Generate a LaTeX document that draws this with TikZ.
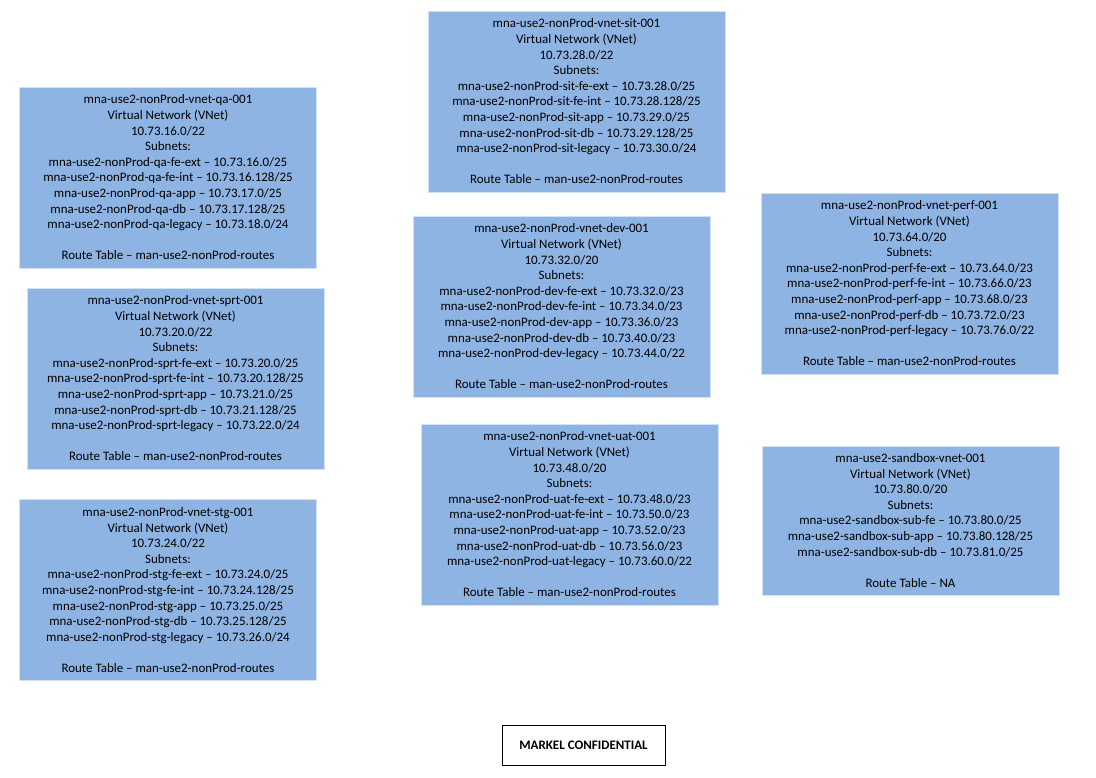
\documentclass[tikz,border=0pt]{standalone}
\usepackage{fontspec}
\setmainfont{Carlito}
\begin{document}
\begin{tikzpicture}[x=1pt,y=-1pt,
  vnet/.style={draw=white!60!boxblue, line width=0.6pt, fill=boxblue, minimum width=297pt, minimum height=181pt, align=center, inner sep=0pt, font=\fontsize{12.95pt}{15.6pt}\selectfont},
  conf/.style={draw=black, line width=0.8pt, fill=white, minimum width=163pt, minimum height=40pt, inner sep=0pt, font=\fontsize{13pt}{15pt}\selectfont\bfseries}]
\definecolor{boxblue}{HTML}{8EB4E3}
\useasboundingbox (0,0) rectangle (1096,778);
\fill[white] (0,0) rectangle (1096,778);

\node[vnet] (qa) at (168,177.5) {mna-use2-nonProd-vnet-qa-001\\Virtual Network (VNet)\\10.73.16.0/22\\Subnets:\\mna-use2-nonProd-qa-fe-ext -- 10.73.16.0/25\\mna-use2-nonProd-qa-fe-int -- 10.73.16.128/25\\mna-use2-nonProd-qa-app -- 10.73.17.0/25\\mna-use2-nonProd-qa-db -- 10.73.17.128/25\\mna-use2-nonProd-qa-legacy -- 10.73.18.0/24\\[15.6pt]Route Table -- man-use2-nonProd-routes};

\node[vnet] (sprt) at (175.5,378.5) {mna-use2-nonProd-vnet-sprt-001\\Virtual Network (VNet)\\10.73.20.0/22\\Subnets:\\mna-use2-nonProd-sprt-fe-ext -- 10.73.20.0/25\\mna-use2-nonProd-sprt-fe-int -- 10.73.20.128/25\\mna-use2-nonProd-sprt-app -- 10.73.21.0/25\\mna-use2-nonProd-sprt-db -- 10.73.21.128/25\\mna-use2-nonProd-sprt-legacy -- 10.73.22.0/24\\[15.6pt]Route Table -- man-use2-nonProd-routes};

\node[vnet] (stg) at (168,590) {mna-use2-nonProd-vnet-stg-001\\Virtual Network (VNet)\\10.73.24.0/22\\Subnets:\\mna-use2-nonProd-stg-fe-ext -- 10.73.24.0/25\\mna-use2-nonProd-stg-fe-int -- 10.73.24.128/25\\mna-use2-nonProd-stg-app -- 10.73.25.0/25\\mna-use2-nonProd-stg-db -- 10.73.25.128/25\\mna-use2-nonProd-stg-legacy -- 10.73.26.0/24\\[15.6pt]Route Table -- man-use2-nonProd-routes};

\node[vnet] (sit) at (576.5,101.5) {mna-use2-nonProd-vnet-sit-001\\Virtual Network (VNet)\\10.73.28.0/22\\Subnets:\\mna-use2-nonProd-sit-fe-ext -- 10.73.28.0/25\\mna-use2-nonProd-sit-fe-int -- 10.73.28.128/25\\mna-use2-nonProd-sit-app -- 10.73.29.0/25\\mna-use2-nonProd-sit-db -- 10.73.29.128/25\\mna-use2-nonProd-sit-legacy -- 10.73.30.0/24\\[15.6pt]Route Table -- man-use2-nonProd-routes};

\node[vnet] (dev) at (561.5,306.5) {mna-use2-nonProd-vnet-dev-001\\Virtual Network (VNet)\\10.73.32.0/20\\Subnets:\\mna-use2-nonProd-dev-fe-ext -- 10.73.32.0/23\\mna-use2-nonProd-dev-fe-int -- 10.73.34.0/23\\mna-use2-nonProd-dev-app -- 10.73.36.0/23\\mna-use2-nonProd-dev-db -- 10.73.40.0/23\\mna-use2-nonProd-dev-legacy -- 10.73.44.0/22\\[15.6pt]Route Table -- man-use2-nonProd-routes};

\node[vnet] (uat) at (569.5,514.5) {mna-use2-nonProd-vnet-uat-001\\Virtual Network (VNet)\\10.73.48.0/20\\Subnets:\\mna-use2-nonProd-uat-fe-ext -- 10.73.48.0/23\\mna-use2-nonProd-uat-fe-int -- 10.73.50.0/23\\mna-use2-nonProd-uat-app -- 10.73.52.0/23\\mna-use2-nonProd-uat-db -- 10.73.56.0/23\\mna-use2-nonProd-uat-legacy -- 10.73.60.0/22\\[15.6pt]Route Table -- man-use2-nonProd-routes};

\node[vnet] (perf) at (909.5,283.5) {mna-use2-nonProd-vnet-perf-001\\Virtual Network (VNet)\\10.73.64.0/20\\Subnets:\\mna-use2-nonProd-perf-fe-ext -- 10.73.64.0/23\\mna-use2-nonProd-perf-fe-int -- 10.73.66.0/23\\mna-use2-nonProd-perf-app -- 10.73.68.0/23\\mna-use2-nonProd-perf-db -- 10.73.72.0/23\\mna-use2-nonProd-perf-legacy -- 10.73.76.0/22\\[15.6pt]Route Table -- man-use2-nonProd-routes};

\node[vnet, minimum height=149pt] (sandbox) at (910.5,520.5) {mna-use2-sandbox-vnet-001\\Virtual Network (VNet)\\10.73.80.0/20\\Subnets:\\mna-use2-sandbox-sub-fe -- 10.73.80.0/25\\mna-use2-sandbox-sub-app -- 10.73.80.128/25\\mna-use2-sandbox-sub-db -- 10.73.81.0/25\\[15.6pt]Route Table -- NA};

\node[conf] (markel) at (583.5,745) {MARKEL CONFIDENTIAL};
\end{tikzpicture}
\end{document}
